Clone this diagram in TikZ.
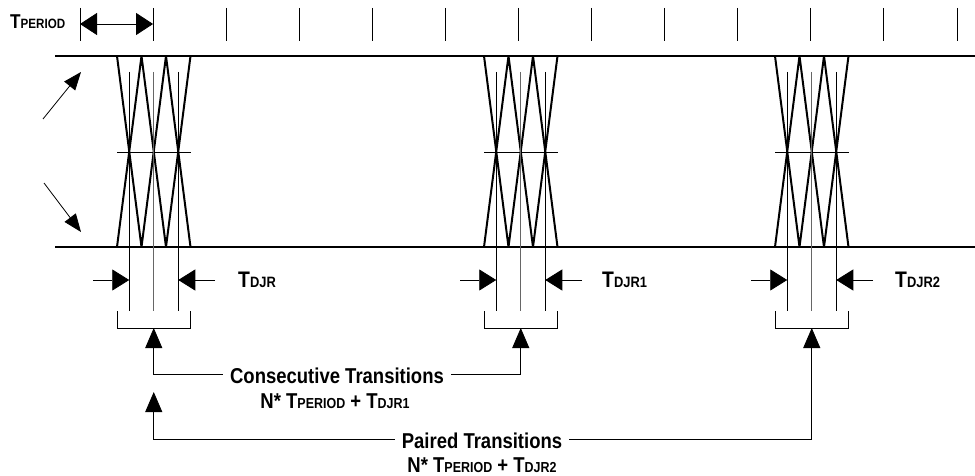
\documentclass[tikz,border=0pt]{standalone}
\usepackage{fontspec}
\setmainfont[FakeStretch=0.86]{Liberation Sans}
\usetikzlibrary{arrows.meta,calc}
\newcommand\Tsb[3]{{\fontsize{#1}{#1}\selectfont T}{\fontsize{#2}{#2}\selectfont #3}}
\begin{document}
\begin{tikzpicture}[x=1pt,y=-1pt,
  sig/.style={line width=2pt},
  rail/.style={line width=1.9pt},
  thin/.style={line width=0.8pt},
  midv/.style={line width=0.8pt, draw=black!60},
  big/.style={-{Triangle[length=20pt,width=17pt]}},
  med/.style={-{Triangle[length=17pt,width=21pt]}},
  dbl/.style={{Triangle[length=17pt,width=22pt]}-{Triangle[length=17pt,width=22pt]}},
  diag/.style={-{Triangle[length=18pt,width=14pt]}},
  lbl/.style={font=\bfseries\fontsize{21.5}{24}\selectfont, inner sep=0pt},
  txt/.style={lbl, anchor=base, text height=16pt, text depth=3pt}
]
\useasboundingbox (0,0) rectangle (975,476);

% period ticks
\foreach \i in {0,...,12}
  \draw[thin] ({80+73.08*\i},8) coordinate (tk\i) -- ({80+73.08*\i},41);
\draw[thin,dbl] (80,24) coordinate (pa0) -- (153.08,24) coordinate (pa1);
\node[lbl, anchor=base west] (tper) at (10,29) {\Tsb{20}{13.5}{PERIOD}};

% rails
\draw[rail] (55,56) coordinate (rt0) -- (975,56) coordinate (rt1);
\draw[rail] (55,247) coordinate (rb0) -- (975,247) coordinate (rb1);

% side arrows
\coordinate (da0) at (43,119); \coordinate (da1) at (81,72);
\coordinate (db0) at (44,183); \coordinate (db1) at (81,232);
\draw[thin,diag] (da0) -- (da1);
\draw[thin,diag] (db0) -- (db1);

% eyes
\foreach \x/\n in {117/1, 484/2, 775/3} {
  \begin{scope}[xshift=\x pt]
    \draw[sig] (0,56)--(24.5,247) (24.5,56)--(0,247)
               (24.5,56)--(49,247) (49,56)--(24.5,247)
               (49,56)--(73.5,247) (73.5,56)--(49,247);
    \draw[thin] (0,152)--(73.5,152);
    \draw[thin] (12.25,72)--(12.25,311) (61.25,72)--(61.25,311);
    \draw[midv] (36.75,72)--(36.75,311);
    \draw[thin] (0,311)--(0,328)--(73.5,328)--(73.5,311);
    \coordinate (br\n) at (36.75,328);
    \coordinate (L\n) at (12.25,280);
    \coordinate (R\n) at (61.25,280);
    \coordinate (Ls\n) at (-24,280);
    \coordinate (Rs\n) at (98,280);
  \end{scope}
  \draw[thin,med] (Ls\n) -- (L\n);
  \draw[thin,med] (Rs\n) -- (R\n);
}
\node[lbl, anchor=base west] (dj1) at (238,287) {\Tsb{22.5}{15}{DJR}};
\node[lbl, anchor=base west] (dj2) at (602,287) {\Tsb{22.5}{15}{DJR1}};
\node[lbl, anchor=base west] (dj3) at (895,287) {\Tsb{22.5}{15}{DJR2}};

% texts
\node[txt] (ct) at (337,383) {Consecutive Transitions};
\node[txt] (cf) at (335,408) {N* \Tsb{21.5}{14.5}{PERIOD} + \Tsb{21.5}{14.5}{DJR1}};
\node[txt] (pt) at (482,448) {Paired Transitions};
\node[txt] (pf) at (482,472) {N* \Tsb{21.5}{14.5}{PERIOD} + \Tsb{21.5}{14.5}{DJR2}};

\coordinate (pa) at ($(br1)+(0,64)$);
\draw[thin,big] ([xshift=-7pt,yshift=2.5pt]ct.west) -| (br1);
\draw[thin,big] ([xshift=7pt,yshift=2.5pt]ct.east) -| (br2);
\draw[thin,big] ([xshift=-7pt,yshift=2.5pt]pt.west) -| (pa);
\draw[thin,big] ([xshift=7pt,yshift=2.5pt]pt.east) -| (br3);
\end{tikzpicture}
\end{document}
